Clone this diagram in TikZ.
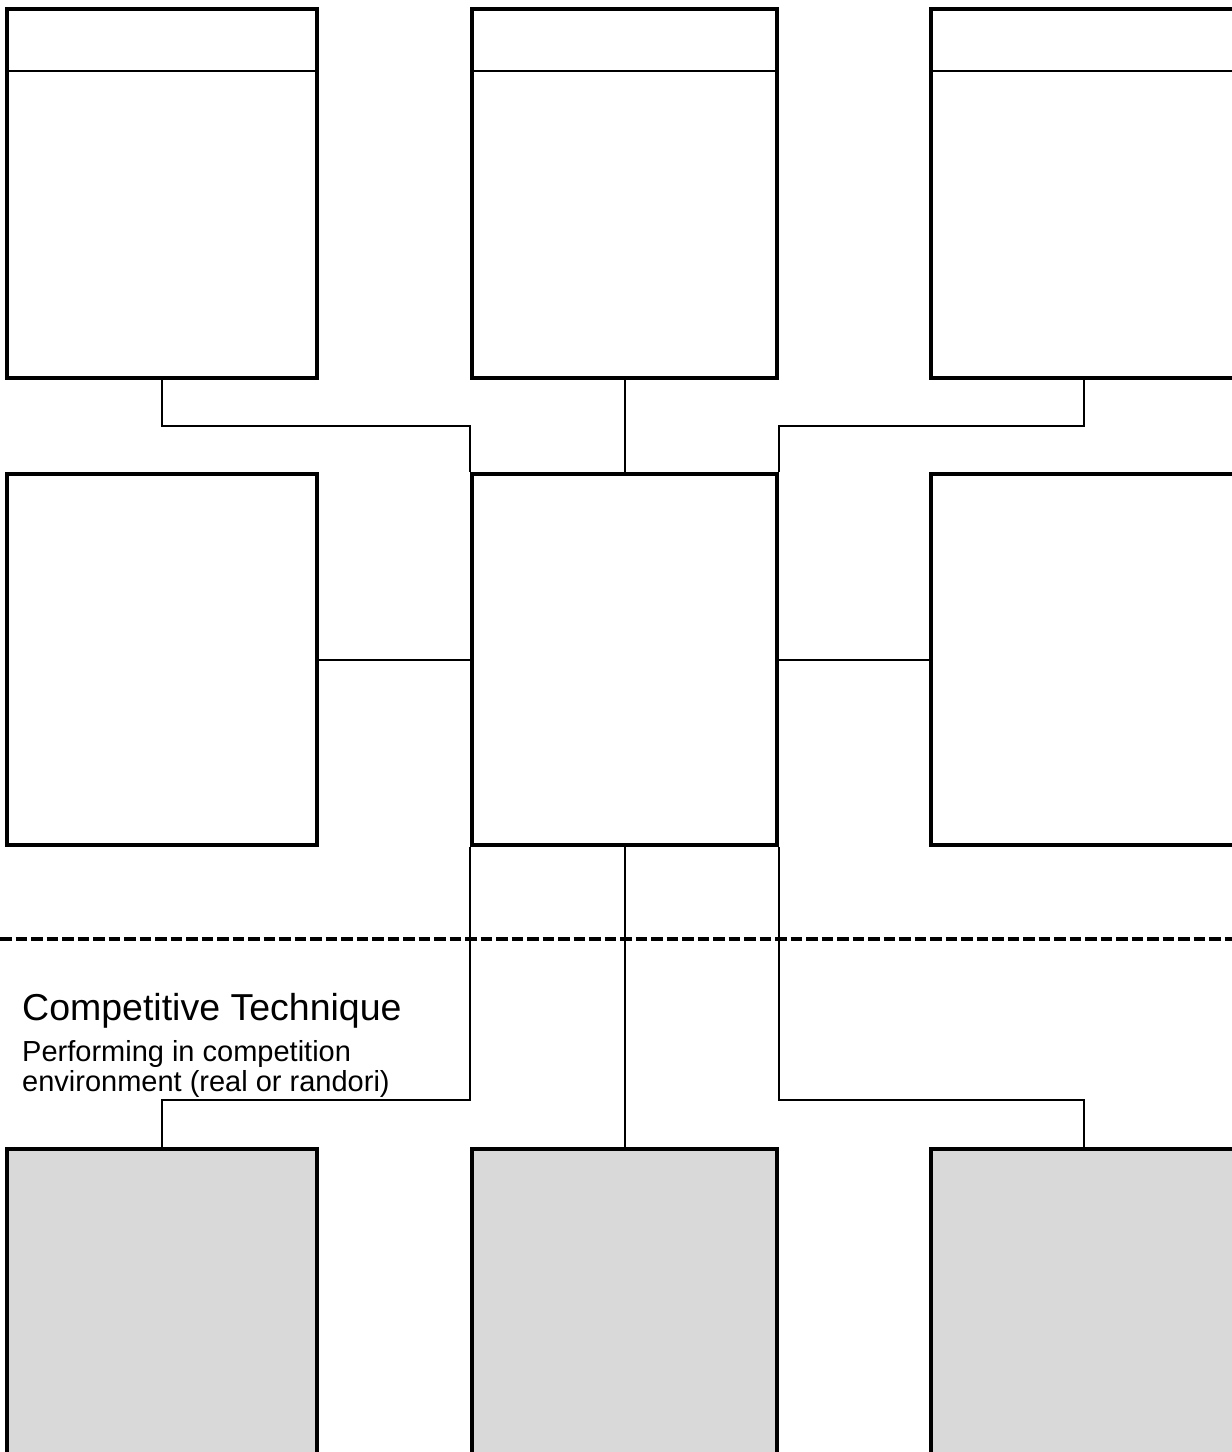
\documentclass[tikz,border=0pt]{standalone}
\usepackage{fontspec}
\setmainfont{Liberation Sans}
\begin{document}
\begin{tikzpicture}[x=1pt,y=-1pt,
  box/.style={draw=black,line width=4pt,fill=white,rectangle,inner sep=0pt,minimum width=#1},
  box/.default=310pt,
  gbox/.style={box=#1,fill={rgb,255:red,217;green,217;blue,217}},
  gbox/.default=310pt,
  link/.style={draw=black,line width=2pt},
  hdr/.style={draw=black,line width=2pt},
  sep/.style={draw=black,line width=3.5pt,dash pattern=on 11.5pt off 4pt}]
\useasboundingbox (0,0) rectangle (1232,1452);
\clip (0,0) rectangle (1232,1452);
% top row
\node[box,minimum height=369pt] (TL) at (162,193.5) {};
\node[box=305pt,minimum height=369pt] (TM) at (624.5,193.5) {};
\node[box=306pt,minimum height=369pt] (TR) at (1084,193.5) {};
% header lines
\coordinate (hy) at (0,71);
\draw[hdr] (TL.west |- hy) -- (TL.east |- hy);
\draw[hdr] (TM.west |- hy) -- (TM.east |- hy);
\draw[hdr] (TR.west |- hy) -- (TR.east |- hy);
% middle row
\node[box,minimum height=371pt] (ML) at (162,659.5) {};
\node[box=305pt,minimum height=371pt] (MM) at (624.5,659.5) {};
\node[box=306pt,minimum height=371pt] (MR) at (1084,659.5) {};
% bottom row
\node[gbox,minimum height=400pt] (BL) at (162,1349) {};
\node[gbox=305pt,minimum height=400pt] (BM) at (624.5,1349) {};
\node[gbox=306pt,minimum height=400pt] (BR) at (1084,1349) {};
% junction coordinates
\coordinate (j1) at (0,426);
\coordinate (j2) at (0,1100);
% top connectors
\draw[link] (TL.south) |- (MM.north west |- j1) -- (MM.north west);
\draw[link] (TM.south) -- (MM.north);
\draw[link] (TR.south) |- (MM.north east |- j1) -- (MM.north east);
% middle connectors
\draw[link] (ML.east) -- (MM.west);
\draw[link] (MM.east) -- (MR.east -| MR.west);
% dashed separator
\coordinate (d0) at (0,939);
\coordinate (d1) at (1232,939);
\draw[sep] (d0) -- (d1);
% bottom connectors
\draw[link] (MM.south west) -- (MM.south west |- j2) -| (BL.north);
\draw[link] (MM.south) -- (BM.north);
\draw[link] (MM.south east) -- (MM.south east |- j2) -| (BR.north);
% text
\node[anchor=base west,inner sep=0pt,font=\fontsize{37.5}{42}\selectfont] (title) at (22,1020) {Competitive Technique};
\node[anchor=base west,inner sep=0pt,font=\fontsize{29}{31}\selectfont] (sub1) at (22,1061) {Performing in competition};
\node[anchor=base west,inner sep=0pt,font=\fontsize{29}{31}\selectfont] (sub2) at (22,1091) {environment (real or randori)};
\end{tikzpicture}
\end{document}
